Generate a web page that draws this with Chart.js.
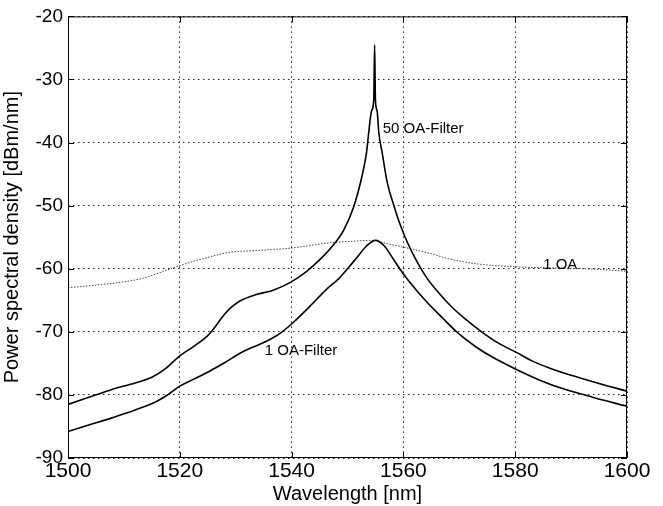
<!DOCTYPE html>
<html>
<head>
<meta charset="utf-8">
<script src="https://cdn.jsdelivr.net/npm/chart.js@4.4.0/dist/chart.umd.min.js"></script>
<style>
    html, body { margin: 0; padding: 0; background: #fff; }
    #wrap { width: 663px; height: 506px; }
</style>
</head>
<body>
<div id="wrap"><canvas id="psd-chart"></canvas></div>
<script>
// wavelength (nm) and power spectral density (dBm/nm)
const wl50 = [1500, 1504, 1508, 1512, 1515, 1517.5, 1520, 1522.5, 1525, 1526.5, 1528, 1529.5, 1531, 1533.7, 1536.7, 1539.7, 1542.7, 1545, 1547.5, 1549.3, 1551.1, 1552.6, 1553.4, 1553.8, 1554.3, 1554.7, 1554.85, 1555.0, 1555.3, 1555.6, 1556.2, 1557.1, 1558.3, 1559.5, 1560.7, 1562.5, 1564.3, 1566.5, 1568.7, 1571, 1574, 1577, 1580.3, 1583, 1586, 1590, 1595, 1600];
const psd50 = [-81.5, -80.3, -79.1, -78.1, -77.2, -75.8, -73.8, -72.3, -70.6, -69, -67.2, -65.9, -65.0, -64.1, -63.4, -62.2, -60.4, -58.6, -56.2, -53.9, -50.2, -45.3, -41.6, -38.4, -35, -33.2, -24.5, -33.3, -35, -38.4, -41.6, -46.3, -50, -53.2, -55.8, -59, -61.6, -64, -66.1, -67.9, -70, -71.8, -73.3, -74.6, -75.7, -76.9, -78.2, -79.4];

const wl1f = [1500, 1504, 1508, 1512, 1515.9, 1518, 1520, 1522.5, 1525.4, 1528, 1531.2, 1535.5, 1538, 1540.2, 1543, 1546.2, 1548.4, 1550.2, 1551.7, 1553.4, 1555.0, 1556.6, 1558, 1559.5, 1561, 1563.9, 1567, 1569.9, 1573, 1575.9, 1580.3, 1584, 1587.8, 1594, 1600];
const psd1f = [-85.8, -84.7, -83.6, -82.4, -81, -79.9, -78.6, -77.5, -76.2, -74.9, -73.2, -71.5, -70.2, -68.6, -66.2, -63.3, -61.6, -59.8, -58.2, -56.4, -55.5, -56.4, -58.2, -60.2, -62, -65, -67.8, -70.3, -72.4, -74, -76, -77.5, -78.8, -80.4, -81.8];

const wlOA = [1500, 1505, 1510.5, 1513.5, 1516.2, 1520, 1524.2, 1528.9, 1534, 1540.2, 1546.7, 1550, 1554.4, 1557, 1560.1, 1564.9, 1568, 1572.9, 1580.3, 1587.8, 1595, 1600];
const psdOA = [-63, -62.6, -62, -61.5, -60.7, -59.5, -58.4, -57.4, -57.1, -56.7, -55.9, -55.7, -55.5, -56, -56.6, -57.6, -58.4, -59.2, -59.7, -59.9, -60.1, -60.4];

const xTicks = [1500, 1520, 1540, 1560, 1580, 1600];
const yTicks = [-90, -80, -70, -60, -50, -40, -30, -20];

const noteText = ['50 OA-Filter', '1 OA', '1 OA-Filter'];
const noteX = [1556.3, 1585, 1535.2];
const noteY = [-37.8, -59.4, -73];

const FONT = "'Liberation Sans', Arial, Helvetica, sans-serif";

function toPoints(xs, ys) {
    return xs.map((x, i) => ({ x: x, y: ys[i] }));
}

// box around the plot, inward tick marks, curve labels
const framePlugin = {
    id: 'frame',
    afterDatasetsDraw(chart) {
        const { ctx, chartArea: a, scales } = chart;
        ctx.save();
        ctx.strokeStyle = '#000';
        ctx.lineWidth = 1;
        ctx.setLineDash([]);
        ctx.strokeRect(a.left + 0.5, a.top + 0.5, a.right - a.left - 1, a.bottom - a.top - 1);
        const len = 6;
        ctx.beginPath();
        xTicks.forEach(v => {
            const px = Math.round(scales.x.getPixelForValue(v)) + 0.5;
            ctx.moveTo(px, a.bottom); ctx.lineTo(px, a.bottom - len);
            ctx.moveTo(px, a.top); ctx.lineTo(px, a.top + len);
        });
        yTicks.forEach(v => {
            const py = Math.round(scales.y.getPixelForValue(v)) + 0.5;
            ctx.moveTo(a.left, py); ctx.lineTo(a.left + len, py);
            ctx.moveTo(a.right, py); ctx.lineTo(a.right - len, py);
        });
        ctx.stroke();

        ctx.fillStyle = '#000';
        ctx.font = '15px ' + FONT;
        ctx.textAlign = 'left';
        ctx.textBaseline = 'middle';
        noteText.forEach((t, i) => {
            ctx.fillText(t, scales.x.getPixelForValue(noteX[i]), scales.y.getPixelForValue(noteY[i]));
        });
        ctx.restore();
    }
};

const ctx = document.getElementById('psd-chart');
new Chart(ctx, {
    type: 'line',
    data: {
        datasets: [
            {
                label: '50 OA-Filter',
                data: toPoints(wl50, psd50),
                borderColor: '#000',
                borderWidth: 1.6,
                pointRadius: 0,
                cubicInterpolationMode: 'monotone'
            },
            {
                label: '1 OA-Filter',
                data: toPoints(wl1f, psd1f),
                borderColor: '#000',
                borderWidth: 1.6,
                pointRadius: 0,
                cubicInterpolationMode: 'monotone'
            },
            {
                label: '1 OA',
                data: toPoints(wlOA, psdOA),
                borderColor: '#444',
                borderWidth: 1,
                borderDash: [1.5, 1.5],
                pointRadius: 0,
                cubicInterpolationMode: 'monotone'
            }
        ]
    },
    options: {
        responsive: true,
        maintainAspectRatio: false,
        animation: false,
        layout: {
            padding: { left: 0, right: 36, top: 13, bottom: 0 }
        },
        plugins: {
            legend: { display: false },
            tooltip: { enabled: false }
        },
        scales: {
            x: {
                type: 'linear',
                min: 1500,
                max: 1600,
                afterBuildTicks: scale => { scale.ticks = xTicks.map(v => ({ value: v })); },
                afterFit: scale => { scale.height = 48; },
                grid: {
                    color: '#222',
                    lineWidth: 1,
                    drawTicks: false
                },
                border: { display: false, dash: [1.5, 3.5] },
                ticks: {
                    color: '#000',
                    padding: 1,
                    maxRotation: 0,
                    callback: v => String(v),
                    font: { size: 21, family: FONT }
                },
                title: {
                    display: true,
                    text: 'Wavelength [nm]',
                    color: '#000',
                    padding: 0,
                    font: { size: 20, family: FONT }
                }
            },
            y: {
                type: 'linear',
                min: -90,
                max: -20,
                afterBuildTicks: scale => { scale.ticks = yTicks.map(v => ({ value: v })); },
                afterFit: scale => { scale.width = 68; },
                grid: {
                    color: '#222',
                    lineWidth: 1,
                    drawTicks: false
                },
                border: { display: false, dash: [1.5, 3.5] },
                ticks: {
                    color: '#000',
                    padding: 5,
                    callback: v => String(v),
                    font: { size: 19, family: FONT }
                },
                title: {
                    display: true,
                    text: 'Power spectral density [dBm/nm]',
                    color: '#000',
                    padding: 0,
                    font: { size: 20, family: FONT }
                }
            }
        }
    },
    plugins: [framePlugin]
});
</script>
</body>
</html>
